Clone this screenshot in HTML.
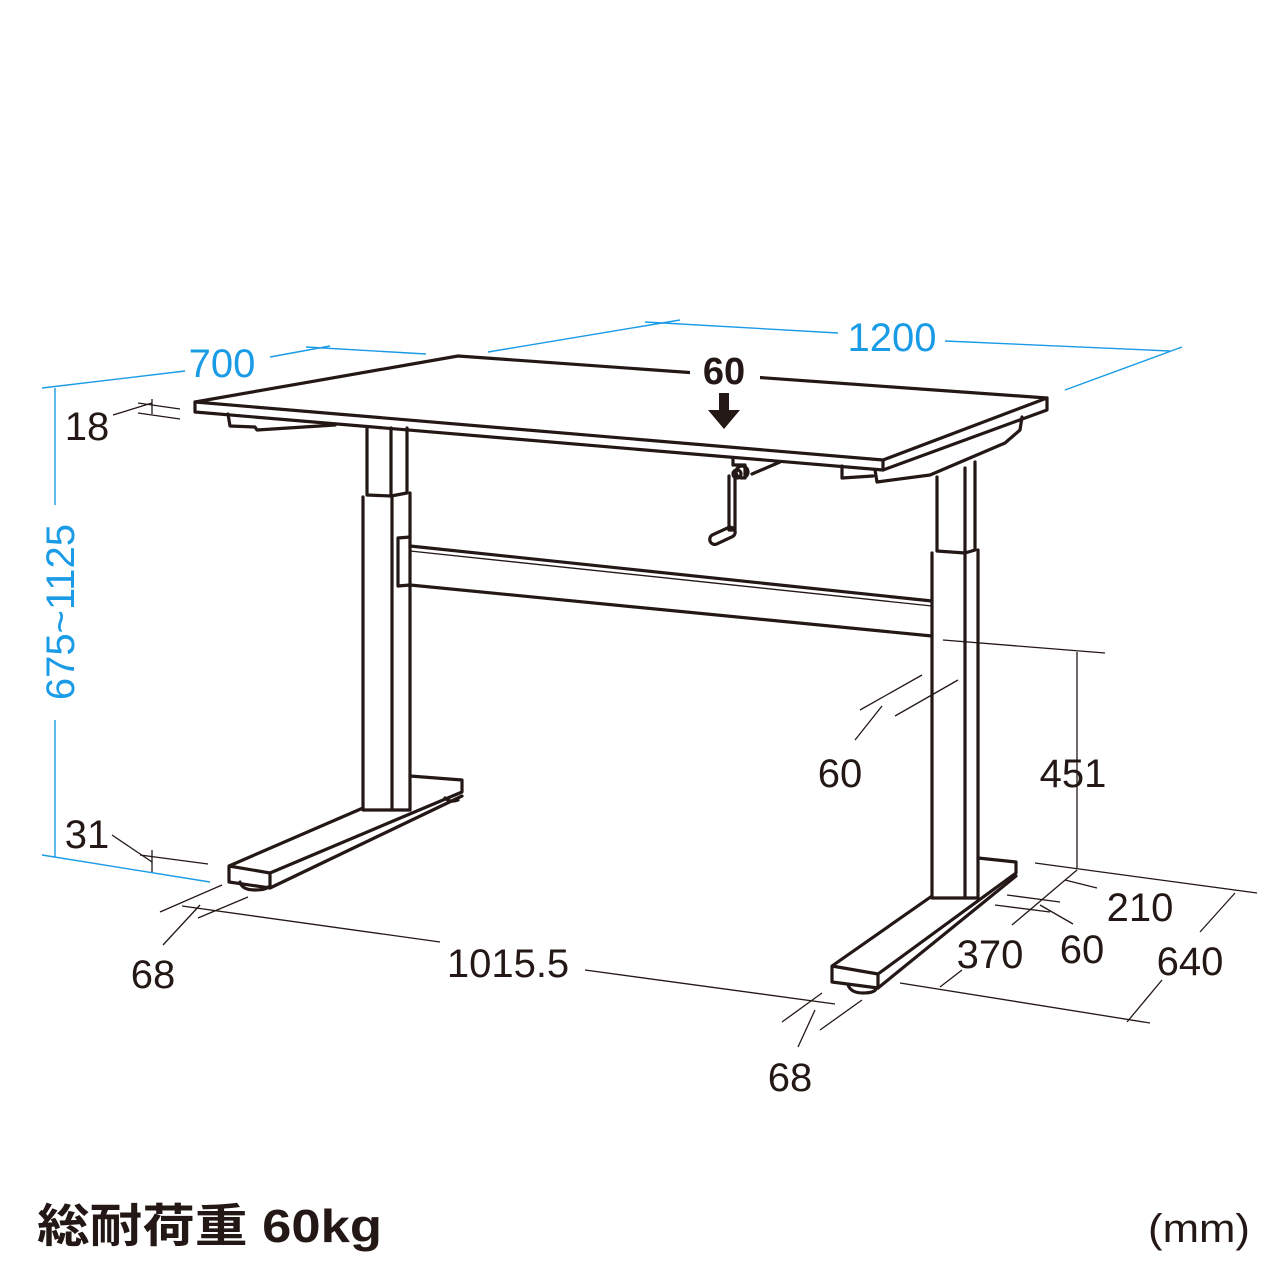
<!DOCTYPE html>
<html><head><meta charset="utf-8"><style>
html,body{margin:0;padding:0;background:#fff;}
svg{display:block;}
.k{fill:none;stroke:#231815;stroke-width:3.2;stroke-linejoin:round;stroke-linecap:round;}
.t{fill:none;stroke:#231815;stroke-width:1.3;}
.b{fill:none;stroke:#1a9be6;stroke-width:1.4;}
text{font-family:"Liberation Sans","Noto Sans CJK JP",sans-serif;}
</style></head><body>
<svg width="1280" height="1280" viewBox="0 0 1280 1280" xmlns="http://www.w3.org/2000/svg">
<polygon class="k" fill="#fff" points="195,402 458,356 1047,398 883,460"/>
<polyline class="k" points="195,402 195,412 883,470 1047,410 1047,398"/>
<line class="k" x1="883" y1="460" x2="883" y2="470"/>
<polyline class="k" points="228,414 230,426 255,427 257,430 335,425"/>
<polyline class="k" points="842,466 842,478 873,476"/>
<polyline class="k" points="875,470 877,482 930,475 1005,443 1020,430 1022,417"/>
<polyline class="k" points="367,427 367,495 391,496 407,493 407,428"/>
<line class="k" x1="391" y1="428" x2="391" y2="496"/>
<polyline class="k" points="363,497 363,810 410,810 410,493"/>
<line class="k" x1="392" y1="496" x2="392" y2="810"/>
<polyline class="k" points="410,537 398,538 398,586 410,585"/>
<line class="k" x1="410" y1="546" x2="932" y2="601"/>
<line class="t" x1="410" y1="551" x2="932" y2="606"/>
<line class="k" x1="410" y1="585" x2="932" y2="636"/>
<polyline class="k" points="937,477 937,551 965,553 975,550 975,462"/>
<line class="k" x1="965" y1="468" x2="965" y2="553"/>
<polyline class="k" points="932,553 932,898 978,898 978,550"/>
<line class="k" x1="965" y1="553" x2="965" y2="898"/>
<polyline class="k" points="363,808 229,866 229,882 270,888 270,873 229,866"/>
<polyline class="k" points="270,873 462,792 462,780 410,776"/>
<polyline class="k" points="270,888 462,796"/>
<path class="k" d="M240,882 Q242,890 255,890 Q266,890 268,887"/>
<path class="k" d="M445,798 Q450,803 458,800"/>
<polyline class="k" points="932,896 832,966 832,982 878,988 878,974 832,966"/>
<polyline class="k" points="878,974 1016,873 1016,862 978,858"/>
<polyline class="k" points="878,988 1016,876"/>
<path class="k" d="M848,985 Q851,993 863,993 Q874,993 876,989"/>
<polyline class="k" points="733,458 733,465 745,465 745,478"/>
<polyline class="k" points="752,474 780,462"/>
<circle class="k" cx="742" cy="472" r="6" fill="#fff"/>
<circle class="k" cx="737" cy="474" r="4" fill="#fff"/>
<polyline class="k" points="729,476 729,530 735,530 735,476"/>
<rect class="k" x="709" y="531" width="27" height="10" rx="5" transform="rotate(-25 722 536)" fill="#fff"/>
<rect x="690" y="350" width="70" height="40" fill="#fff"/>
<text x="724" y="384" font-size="38" font-weight="bold" text-anchor="middle" fill="#231815">60</text>
<polygon points="719,393 729,393 729,410 740,410 724,429 708,410 719,410" fill="#231815"/>
<polyline class="b" points="42,388 185,371"/>
<polyline class="b" points="270,357 330,346"/>
<polyline class="b" points="306,347 426,354"/>
<polyline class="b" points="488,352 680,320"/>
<polyline class="b" points="645,322 838,333"/>
<polyline class="b" points="945,341 1170,351"/>
<polyline class="b" points="1065,390 1182,347"/>
<line class="b" x1="55" y1="388" x2="55" y2="505"/>
<line class="b" x1="55" y1="720" x2="55" y2="857"/>
<polyline class="b" points="42,855 210,882"/>
<text x="222" y="377" font-size="40" fill="#1a9be6" text-anchor="middle">700</text>
<text x="892" y="351" font-size="40" fill="#1a9be6" text-anchor="middle">1200</text>
<text transform="translate(74,612) rotate(-90)" font-size="40" fill="#1a9be6" text-anchor="middle">675~1125</text>
<g class="t">
<line x1="113" y1="415" x2="152" y2="403"/>
<line x1="138" y1="403" x2="180" y2="409"/>
<line x1="138" y1="413" x2="180" y2="419"/>
<line x1="152" y1="399" x2="152" y2="414"/>
<line x1="112" y1="835" x2="152" y2="862"/>
<line x1="140" y1="855" x2="208" y2="864"/>
<line x1="152" y1="850" x2="152" y2="872"/>
<line x1="160" y1="912" x2="222" y2="885"/>
<line x1="198" y1="918" x2="248" y2="897"/>
<line x1="163" y1="945" x2="200" y2="905"/>
<line x1="182" y1="906" x2="440" y2="942"/>
<line x1="585" y1="970" x2="835" y2="1004"/>
<line x1="782" y1="1022" x2="822" y2="993"/>
<line x1="820" y1="1030" x2="862" y2="1000"/>
<line x1="798" y1="1047" x2="815" y2="1010"/>
<line x1="860" y1="710" x2="922" y2="675"/>
<line x1="895" y1="716" x2="958" y2="680"/>
<line x1="855" y1="740" x2="882" y2="706"/>
<line x1="943" y1="640" x2="1105" y2="653"/>
<line x1="1077" y1="652" x2="1077" y2="868"/>
<line x1="1035" y1="863" x2="1257" y2="893"/>
<line x1="1065" y1="880" x2="1097" y2="888"/>
<line x1="1012" y1="925" x2="1077" y2="870"/>
<line x1="1007" y1="895" x2="1060" y2="902"/>
<line x1="995" y1="905" x2="1050" y2="912"/>
<line x1="1040" y1="905" x2="1073" y2="924"/>
<line x1="900" y1="983" x2="1150" y2="1023"/>
<line x1="940" y1="987" x2="962" y2="970"/>
<line x1="1127" y1="1022" x2="1162" y2="980"/>
<line x1="1200" y1="932" x2="1235" y2="893"/>
</g>
<g font-size="40" fill="#231815" text-anchor="middle">
<text x="87" y="440">18</text>
<text x="87" y="848">31</text>
<text x="153" y="988">68</text>
<text x="508" y="977">1015.5</text>
<text x="790" y="1091">68</text>
<text x="840" y="787">60</text>
<text x="1073" y="787">451</text>
<text x="1140" y="921">210</text>
<text x="1082" y="963">60</text>
<text x="990" y="968">370</text>
<text x="1190" y="975">640</text>
</g>
<text x="37" y="1242" font-size="46" font-weight="bold" fill="#231815" textLength="345" lengthAdjust="spacingAndGlyphs">総耐荷重 60kg</text>
<text x="1148" y="1242" font-size="40" fill="#231815" textLength="102" lengthAdjust="spacingAndGlyphs">(mm)</text>
</svg>
</body></html>
